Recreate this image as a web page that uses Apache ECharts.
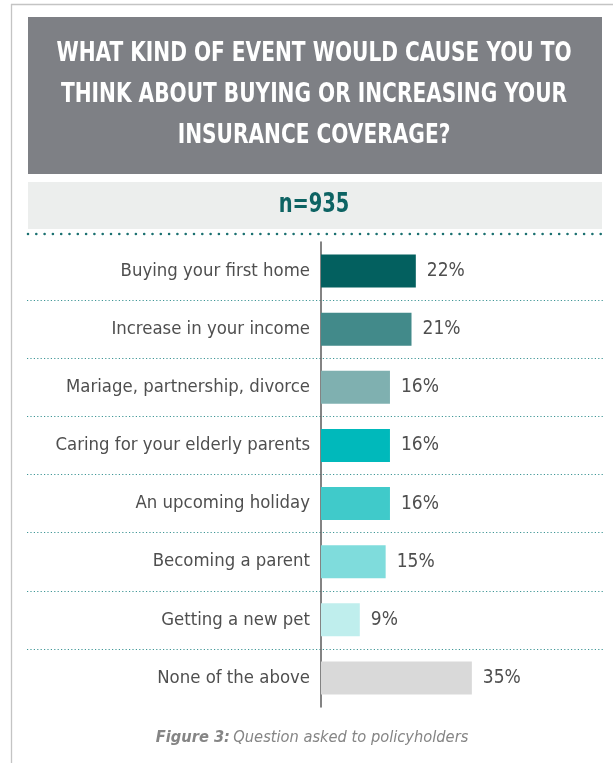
<!DOCTYPE html>
<html>
<head>
<meta charset="utf-8">
<script src="https://cdn.jsdelivr.net/npm/echarts@6/dist/echarts.min.js"></script>
<style>
  html, body { margin: 0; padding: 0; background: #ffffff; }
  #chart { width: 613px; height: 763px; }
</style>
</head>
<body>
<div id="chart"></div>
<script>
// Survey answers: share of policyholders (%) per triggering event
const categories = [
  'Buying your first home',
  'Increase in your income',
  'Mariage, partnership, divorce',
  'Caring for your elderly parents',
  'An upcoming holiday',
  'Becoming a parent',
  'Getting a new pet',
  'None of the above'
];
const shares = [22, 21, 16, 16, 16, 15, 9, 35];
const barColors = ['#03605f', '#428a8a', '#7fb0b0', '#00b9bb', '#40caca', '#7fdcdc', '#bfeeed', '#d9d9d9'];

const titleLines = [
  'WHAT KIND OF EVENT WOULD CAUSE YOU TO',
  'THINK ABOUT BUYING OR INCREASING YOUR',
  'INSURANCE COVERAGE?'
];
const sampleText = 'n=935';

const NARROW = '"Liberation Sans Narrow", "DejaVu Sans Condensed", "Arial Narrow", sans-serif';

const chart = echarts.init(document.getElementById('chart'), null, { renderer: 'canvas' });

const option = {
  animation: false,
  backgroundColor: '#ffffff',
  grid: [
    { left: 321, top: 242, width: 258.6, height: 465 },
    { left: 27, right: 8, top: 242, height: 465 }
  ],
  xAxis: [
    { gridIndex: 0, type: 'value', min: 0, max: 60, show: false },
    { gridIndex: 1, type: 'value', min: 0, max: 1, show: false }
  ],
  yAxis: [
    {
      gridIndex: 0,
      type: 'category',
      inverse: true,
      data: categories,
      axisLine: { show: true, lineStyle: { color: '#5a5a5a', width: 1.5 } },
      axisTick: { show: false },
      splitLine: { show: false },
      axisLabel: {
        margin: 11,
        color: '#4f4f4f',
        fontSize: 18.4,
        fontFamily: NARROW
      }
    },
    {
      gridIndex: 1,
      type: 'category',
      inverse: true,
      data: categories,
      axisLine: { show: false },
      axisTick: { show: false },
      axisLabel: { show: false },
      splitLine: {
        show: true,
        showMinLine: false,
        showMaxLine: false,
        lineStyle: { color: '#3f9696', width: 1, type: [1.2, 2.2] }
      }
    }
  ],
  series: [
    {
      type: 'bar',
      xAxisIndex: 0,
      yAxisIndex: 0,
      barWidth: 33,
      data: shares.map((v, i) => ({ value: v, itemStyle: { color: barColors[i] } })),
      label: {
        show: true,
        position: 'right',
        distance: 11,
        formatter: '{c}%',
        color: '#4f4f4f',
        fontSize: 19,
        fontFamily: NARROW
      }
    }
  ],
  graphic: [
    // outer frame: top and left rules
    { type: 'line', shape: { x1: 11, y1: 4.5, x2: 613, y2: 4.5 }, style: { stroke: '#c4c4c4', lineWidth: 1.3 } },
    { type: 'line', shape: { x1: 11.5, y1: 4, x2: 11.5, y2: 763 }, style: { stroke: '#c4c4c4', lineWidth: 1.3 } },
    // question banner
    { type: 'rect', shape: { x: 28, y: 17, width: 574, height: 157 }, style: { fill: '#7e8085' } },
    ...titleLines.map((t, i) => ({
      type: 'text',
      x: 314, y: 53.5 + i * 41,
      scaleX: 0.83,
      style: {
        text: t, fill: '#ffffff', align: 'center', verticalAlign: 'middle',
        font: 'bold 27px ' + NARROW
      }
    })),
    // sample size band
    { type: 'rect', shape: { x: 28, y: 182, width: 574, height: 47 }, style: { fill: '#eceeed' } },
    {
      type: 'text', x: 314, y: 205,
      scaleX: 0.8,
      style: { text: sampleText, fill: '#0d6363', align: 'center', verticalAlign: 'middle', font: 'bold 27px ' + NARROW }
    },
    // dotted rule under the band
    {
      type: 'line', shape: { x1: 28, y1: 234, x2: 606, y2: 234 },
      style: { stroke: '#1a7070', lineWidth: 2.6, lineCap: 'round', lineDash: [0, 8.3] }
    },
    // caption
    {
      type: 'text', x: 312, y: 738,
      style: {
        text: '{b|Figure 3:} {i|Question asked to policyholders}',
        align: 'center', verticalAlign: 'middle',
        rich: {
          b: { fill: '#858585', font: 'italic bold 16.3px ' + NARROW },
          i: { fill: '#858585', font: 'italic 16.3px ' + NARROW }
        }
      }
    }
  ]
};

chart.setOption(option);
</script>
</body>
</html>
